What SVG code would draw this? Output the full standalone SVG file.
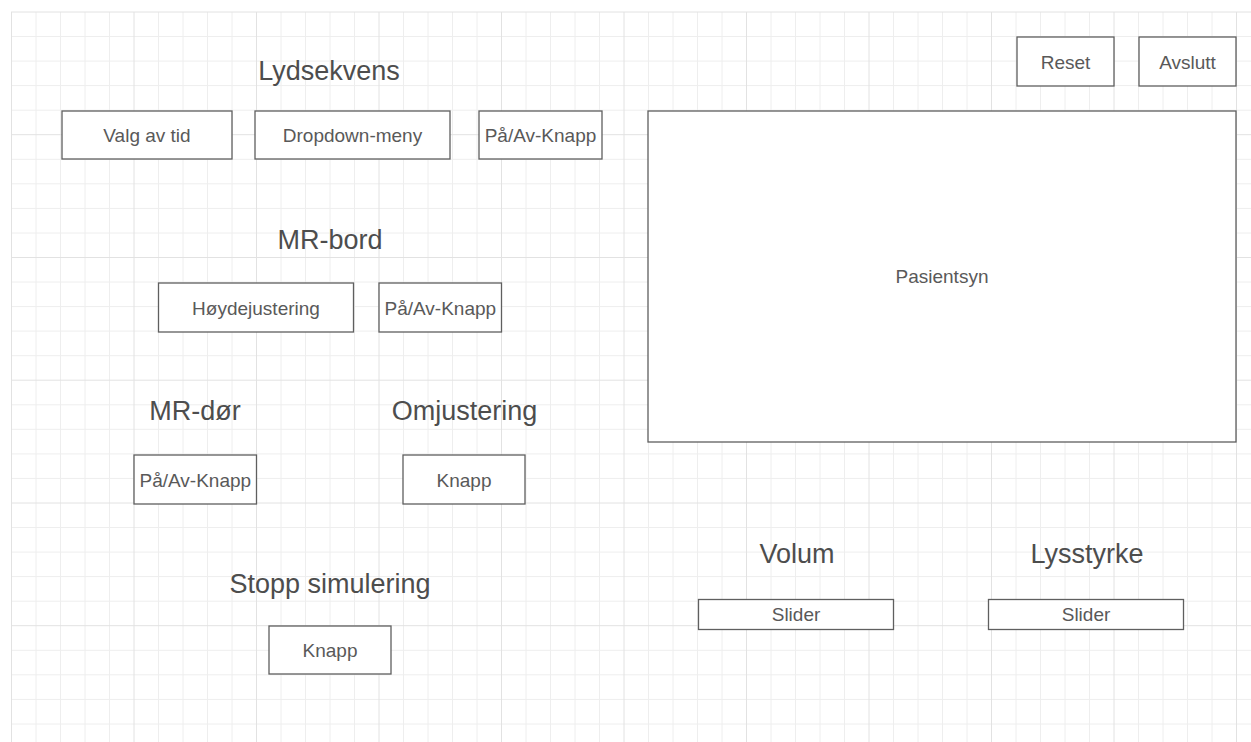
<svg xmlns="http://www.w3.org/2000/svg" width="1251" height="742" viewBox="0 0 1251 742">
<style>
.bg{fill:#ffffff}
.minor{stroke:#eeeeee;stroke-width:1;fill:none}
.major{stroke:#e2e2e2;stroke-width:1;fill:none}
.box{fill:#ffffff;stroke:#5f5f5f;stroke-width:1.3}
.lbl{font-family:"Liberation Sans",Arial,sans-serif;font-size:19px;fill:#595959;text-anchor:middle}
.ttl{font-family:"Liberation Sans",Arial,sans-serif;font-size:27px;fill:#4d4d4d;text-anchor:middle}
</style>
<rect class="bg" x="0" y="0" width="1251" height="742"/>
<g id="grid">
<path class="minor" d="M36 12V742M60.5 12V742M85 12V742M109.5 12V742M158.5 12V742M183 12V742M207.5 12V742M232 12V742M281 12V742M305.5 12V742M330 12V742M354.5 12V742M403.5 12V742M428 12V742M452.5 12V742M477 12V742M526 12V742M550.5 12V742M575 12V742M599.5 12V742M648.5 12V742M673 12V742M697.5 12V742M722 12V742M771 12V742M795.5 12V742M820 12V742M844.5 12V742M893.5 12V742M918 12V742M942.5 12V742M967 12V742M1016 12V742M1040.5 12V742M1065 12V742M1089.5 12V742M1138.5 12V742M1163 12V742M1187.5 12V742M1212 12V742"/>
<path class="minor" d="M11 36.5H1251M11 61.1H1251M11 85.6H1251M11 110.2H1251M11 159.3H1251M11 183.8H1251M11 208.4H1251M11 233H1251M11 282H1251M11 306.6H1251M11 331.1H1251M11 355.7H1251M11 404.8H1251M11 429.3H1251M11 453.9H1251M11 478.4H1251M11 527.5H1251M11 552.1H1251M11 576.6H1251M11 601.2H1251M11 650.3H1251M11 674.8H1251M11 699.4H1251M11 724H1251"/>
<path class="major" d="M11.5 12V742M134 12V742M256.5 12V742M379 12V742M501.5 12V742M624 12V742M746.5 12V742M869 12V742M991.5 12V742M1114 12V742M1236.5 12V742"/>
<path class="major" d="M11 12H1251M11 134.7H1251M11 257.5H1251M11 380.2H1251M11 503H1251M11 625.7H1251"/>
</g>
<g id="connectors"/>
<g id="title-lydsekvens"><text class="ttl" x="329" y="80">Lydsekvens</text></g>
<g id="title-mrbord"><text class="ttl" x="330" y="249">MR-bord</text></g>
<g id="title-mrdor"><text class="ttl" x="195" y="420">MR-dør</text></g>
<g id="title-omjustering"><text class="ttl" x="464.5" y="420">Omjustering</text></g>
<g id="title-volum"><text class="ttl" x="797" y="562.5">Volum</text></g>
<g id="title-lysstyrke"><text class="ttl" x="1087" y="562.5">Lysstyrke</text></g>
<g id="title-stopp"><text class="ttl" x="330" y="593">Stopp simulering</text></g>
<g id="reset"><rect class="box" x="1017" y="37" width="97" height="49"/><text class="lbl" x="1065.5" y="68.5">Reset</text></g>
<g id="avslutt"><rect class="box" x="1139" y="37" width="97" height="49"/><text class="lbl" x="1187.5" y="68.5">Avslutt</text></g>
<g id="valg-av-tid"><rect class="box" x="62" y="111" width="170" height="48"/><text class="lbl" x="147" y="142">Valg av tid</text></g>
<g id="dropdown"><rect class="box" x="255" y="111" width="195" height="48"/><text class="lbl" x="352.5" y="142">Dropdown-meny</text></g>
<g id="lyd-paav"><rect class="box" x="479" y="111" width="123" height="48"/><text class="lbl" x="540.5" y="142">På/Av-Knapp</text></g>
<g id="pasientsyn"><rect class="box" x="648" y="111" width="588" height="331"/><text class="lbl" x="942" y="283">Pasientsyn</text></g>
<g id="hoydejustering"><rect class="box" x="158.5" y="283" width="195" height="49"/><text class="lbl" x="256" y="314.5">Høydejustering</text></g>
<g id="bord-paav"><rect class="box" x="379" y="283" width="122.5" height="49"/><text class="lbl" x="440.3" y="314.5">På/Av-Knapp</text></g>
<g id="dor-paav"><rect class="box" x="134" y="455" width="122.5" height="49"/><text class="lbl" x="195.3" y="486.5">På/Av-Knapp</text></g>
<g id="omjustering-knapp"><rect class="box" x="403" y="455" width="122" height="49"/><text class="lbl" x="464" y="486.5">Knapp</text></g>
<g id="volum-slider"><rect class="box" x="698.5" y="599.5" width="195" height="30"/><text class="lbl" x="796" y="621">Slider</text></g>
<g id="lysstyrke-slider"><rect class="box" x="988.5" y="599.5" width="195" height="30"/><text class="lbl" x="1086" y="621">Slider</text></g>
<g id="stopp-knapp"><rect class="box" x="269" y="626" width="122" height="48"/><text class="lbl" x="330" y="657">Knapp</text></g>
</svg>
